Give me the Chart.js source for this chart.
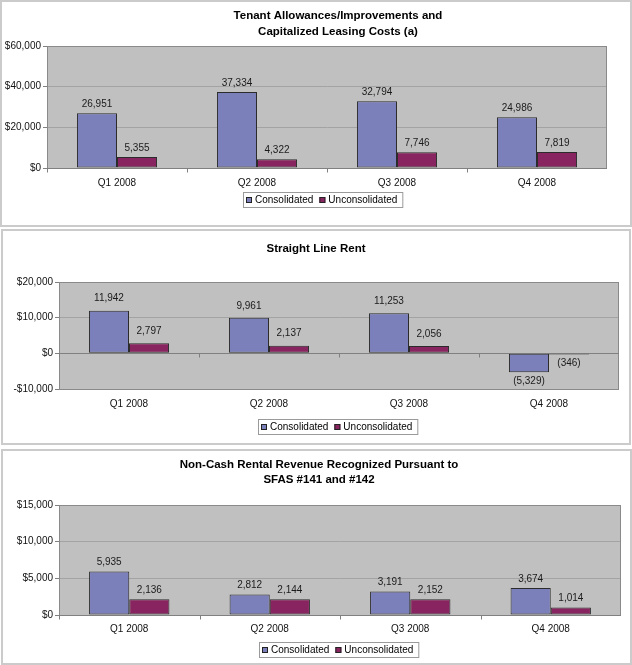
<!DOCTYPE html>
<html><head><meta charset="utf-8">
<script src="https://cdn.jsdelivr.net/npm/chart.js@4/dist/chart.umd.min.js"></script>
<style>
html,body{margin:0;padding:0;background:#fff;width:632px;height:665px;overflow:hidden;}
.panel{position:absolute;box-sizing:border-box;border:2px solid #cbcbcb;background:#fff;}
canvas{position:absolute;left:0;}
</style></head><body>
<div class="panel" style="left:0;top:0;width:632px;height:227px"></div>
<div class="panel" style="left:1px;top:229px;width:630px;height:216px"></div>
<div class="panel" style="left:1px;top:449px;width:631px;height:216px"></div>
<canvas id="c1" width="632" height="227" style="top:0"></canvas>
<canvas id="c2" width="632" height="216" style="top:229px"></canvas>
<canvas id="c3" width="632" height="216" style="top:449px"></canvas>
<script>
// ---- data ----
const categories = ['Q1 2008', 'Q2 2008', 'Q3 2008', 'Q4 2008'];
const seriesNames = ['Consolidated', 'Unconsolidated'];

const tenantTitle = ['Tenant Allowances/Improvements and', 'Capitalized Leasing Costs (a)'];
const tenantConsolidated = [26951, 37334, 32794, 24986];
const tenantUnconsolidated = [5355, 4322, 7746, 7819];
const tenantAxis = [0, 60000, 20000];

const straightTitle = ['Straight Line Rent'];
const straightConsolidated = [11942, 9961, 11253, -5329];
const straightUnconsolidated = [2797, 2137, 2056, -346];
const straightAxis = [-10000, 20000, 10000];

const nonCashTitle = ['Non-Cash Rental Revenue Recognized Pursuant to', 'SFAS #141 and #142'];
const nonCashConsolidated = [5935, 2812, 3191, 3674];
const nonCashUnconsolidated = [2136, 2144, 2152, 1014];
const nonCashAxis = [0, 15000, 5000];

// ---- styling ----
const FONT = '"Liberation Sans", Arial, sans-serif';
const COLORS = ['#7b7fba', '#88245f'];
const PLOT_BG = '#c0c0c0';

function fmtVal(v) {
  const s = Math.abs(v).toLocaleString('en-US');
  return v < 0 ? '(' + s + ')' : s;
}
function fmtTick(v) {
  return (v < 0 ? '-' : '') + '$' + Math.abs(v).toLocaleString('en-US');
}

const decorPlugin = {
  id: 'decor',
  beforeDraw(chart, args, o) {
    const a = chart.chartArea, ctx = chart.ctx;
    ctx.save();
    ctx.fillStyle = PLOT_BG;
    ctx.fillRect(a.left, a.top, a.right - a.left, a.bottom - a.top);
    ctx.restore();
  },
  beforeDatasetsDraw(chart, args, o) {
    const a = chart.chartArea, ctx = chart.ctx;
    const ys = chart.scales.y;
    ctx.save();
    ctx.strokeStyle = '#8a8a8a';
    ctx.lineWidth = 1;
    ctx.strokeRect(a.left + 0.5, a.top + 0.5, a.right - a.left - 1, a.bottom - a.top);
    // category axis at zero
    const y0 = Math.round(ys.getPixelForValue(0)) + 0.5;
    ctx.strokeStyle = '#808080';
    ctx.beginPath();
    ctx.moveTo(a.left, y0); ctx.lineTo(a.right, y0);
    const n = chart.data.labels.length;
    for (let i = 0; i < n; i++) {
      const x = Math.round(a.left + (a.right - a.left) * i / n) + 0.5;
      ctx.moveTo(x, y0); ctx.lineTo(x, y0 + 4);
    }
    ctx.stroke();
    ctx.restore();
  },
  afterDatasetsDraw(chart, args, o) {
    const ctx = chart.ctx;
    ctx.save();
    ctx.font = '10px ' + FONT;
    ctx.fillStyle = '#1a1a1a';
    ctx.textAlign = 'center';
    ctx.textBaseline = 'middle';
    chart.data.datasets.forEach((ds, di) => {
      const meta = chart.getDatasetMeta(di);
      meta.data.forEach((el, i) => {
        const v = ds.data[i];
        const y = v >= 0 ? el.y - o.labelOff : el.y + 9;
        ctx.fillText(fmtVal(v), el.x, y);
      });
    });
    ctx.restore();
  },
  afterDraw(chart, args, o) {
    const ctx = chart.ctx;
    ctx.save();
    // title
    ctx.font = 'bold 11.5px ' + FONT;
    ctx.fillStyle = '#000';
    ctx.textAlign = 'center';
    ctx.textBaseline = 'middle';
    o.title.forEach((t, i) => ctx.fillText(t, o.titleX, o.titleY + i * o.titleGap));
    // legend
    ctx.font = '10px ' + FONT;
    const sq = 6, gapT = 3, gapItem = 6, padL = 3, padR = 5;
    let w = padL;
    const items = chart.data.datasets.map(d => d.label);
    items.forEach((t, i) => {
      w += sq + gapT + ctx.measureText(t).width + (i < items.length - 1 ? gapItem : 0);
    });
    w += padR;
    const h = 15;
    const lx = Math.round(o.legendX - w / 2), ly = Math.round(o.legendY - h / 2);
    ctx.strokeStyle = '#9a9a9a';
    ctx.lineWidth = 1;
    ctx.strokeRect(lx + 0.5, ly + 0.5, w, h);
    let x = lx + padL;
    const cy = ly + h / 2 + 0.5;
    ctx.textAlign = 'left';
    items.forEach((t, i) => {
      ctx.fillStyle = chart.data.datasets[i].backgroundColor;
      ctx.fillRect(x, Math.round(cy - sq / 2), sq, sq);
      ctx.strokeStyle = '#222';
      ctx.strokeRect(x + 0.5, Math.round(cy - sq / 2) + 0.5, sq - 1, sq - 1);
      x += sq + gapT;
      ctx.fillStyle = '#000';
      ctx.fillText(t, x, cy);
      x += ctx.measureText(t).width + gapItem;
    });
    ctx.restore();
  }
};

function makeChart(id, H, area, axis, d1, d2, decor) {
  const [left, right, top, bottom] = area;
  return new Chart(document.getElementById(id), {
    type: 'bar',
    data: {
      labels: categories,
      datasets: [
        { label: seriesNames[0], data: d1, backgroundColor: COLORS[0], borderColor: '#2b2b2b', borderWidth: 1, borderSkipped: false },
        { label: seriesNames[1], data: d2, backgroundColor: COLORS[1], borderColor: '#2b2b2b', borderWidth: 1, borderSkipped: false }
      ]
    },
    options: {
      responsive: false,
      animation: false,
      devicePixelRatio: 1,
      layout: { padding: { left: 0, right: 632 - right, top: top, bottom: 0 } },
      plugins: { legend: { display: false }, title: { display: false }, tooltip: { enabled: false }, decor: decor },
      datasets: { bar: { categoryPercentage: 0.572, barPercentage: 1.0 } },
      scales: {
        x: {
          offset: true,
          grid: { display: false },
          border: { display: false },
          ticks: { color: '#111', font: { family: FONT, size: 10 }, padding: decor.xPad, maxRotation: 0 },
          afterFit: s => { s.height = H - bottom; }
        },
        y: {
          min: axis[0], max: axis[1],
          grid: { color: '#a3a3a3', tickColor: '#808080', tickLength: 4, drawTicks: true },
          border: { display: true, color: '#808080' },
          ticks: { stepSize: axis[2], color: '#111', font: { family: FONT, size: 10 }, padding: 2, callback: v => fmtTick(v) },
          afterFit: s => { s.width = left; }
        }
      }
    },
    plugins: [decorPlugin]
  });
}

makeChart('c1', 227, [47, 607, 46, 168], tenantAxis, tenantConsolidated, tenantUnconsolidated,
  { title: tenantTitle, titleX: 338, titleY: 16, titleGap: 16, legendX: 323, legendY: 199, xPad: 1, labelOff: 9 });
makeChart('c2', 216, [59, 619, 53, 160], straightAxis, straightConsolidated, straightUnconsolidated,
  { title: straightTitle, titleX: 316, titleY: 20, titleGap: 16, legendX: 338, legendY: 197, xPad: 1, labelOff: 12 });
makeChart('c3', 216, [59, 621, 56, 166], nonCashAxis, nonCashConsolidated, nonCashUnconsolidated,
  { title: nonCashTitle, titleX: 319, titleY: 16, titleGap: 15, legendX: 339, legendY: 200, xPad: 0, labelOff: 9 });
</script>
</body></html>
